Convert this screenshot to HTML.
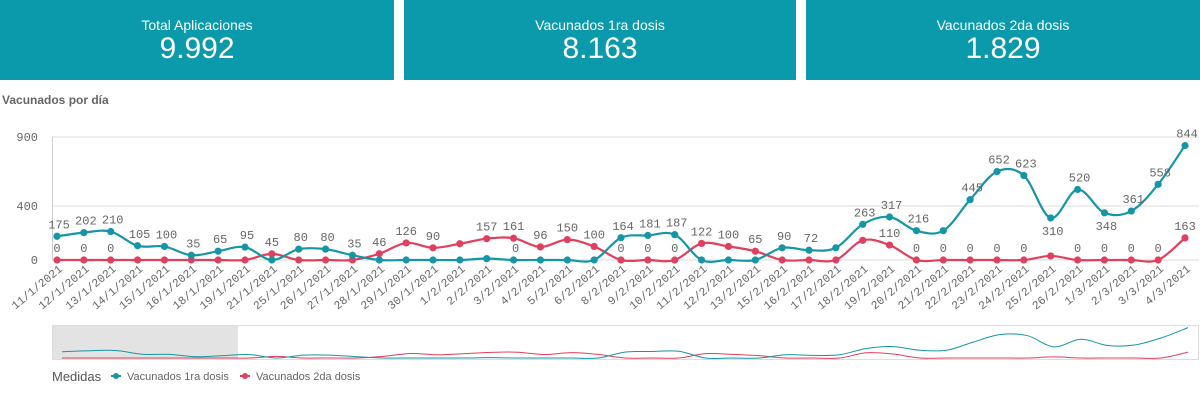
<!DOCTYPE html>
<html><head><meta charset="utf-8"><style>
body{margin:0;width:1200px;height:400px;overflow:hidden;background:#fff;font-family:"Liberation Sans",sans-serif}
.kpi{position:absolute;top:0;height:80px;background:#0a9aab;color:#fff;text-align:center}
.kpi .t{font-size:14px;margin-top:17px}
.kpi .v{font-size:30px;line-height:30px;margin-top:1px}
</style></head><body>
<div class="kpi" style="left:0;width:394px"><div class="t">Total Aplicaciones</div><div class="v">9.992</div></div>
<div class="kpi" style="left:404px;width:392px"><div class="t">Vacunados 1ra dosis</div><div class="v">8.163</div></div>
<div class="kpi" style="left:806px;width:394px"><div class="t">Vacunados 2da dosis</div><div class="v">1.829</div></div>
<svg id="s" width="1200" height="400" style="position:absolute;left:0;top:0"></svg>
<script>
const dates="11/1/2021 12/1/2021 13/1/2021 14/1/2021 15/1/2021 16/1/2021 18/1/2021 19/1/2021 21/1/2021 25/1/2021 26/1/2021 27/1/2021 28/1/2021 29/1/2021 30/1/2021 1/2/2021 2/2/2021 3/2/2021 4/2/2021 5/2/2021 6/2/2021 8/2/2021 9/2/2021 10/2/2021 11/2/2021 12/2/2021 13/2/2021 15/2/2021 16/2/2021 17/2/2021 18/2/2021 19/2/2021 20/2/2021 21/2/2021 22/2/2021 23/2/2021 24/2/2021 25/2/2021 26/2/2021 1/3/2021 2/3/2021 3/3/2021 4/3/2021".split(" ");
const B=[175,202,210,105,100,35,65,95,0,80,80,35,0,0,0,0,10,0,0,0,0,164,181,187,0,0,0,90,72,90,263,317,216,216,445,652,623,310,520,348,361,558,844];
const R=[0,0,0,0,0,0,0,0,45,0,0,0,46,126,90,120,157,161,96,150,100,0,0,0,122,100,65,0,0,0,145,110,0,0,0,0,0,30,0,0,0,0,163];
const bShow=i=>!([8,12,13,14,15,16,18,19,20,24,25,26,29,33].includes(i));
const rShow=i=>[0,1,2,8,12,13,14,16,17,18,19,20,21,22,23,24,25,26,31,32,33,34,35,36,38,39,40,41,42].includes(i);
const X=i=>57+i*(1128/42), Y=v=>260-v*0.1356;
let h='';
const txt=(x,y,t,o='')=>`<text x="${x}" y="${y}" ${o}>${t}</text>`;
h+=`<text x="2" y="104" font-size="12" font-weight="bold" fill="#666" font-family="Liberation Sans">Vacunados por día</text>`;
[[900,137],[400,206],[0,260]].forEach(([v,y])=>{h+=`<line x1="52" x2="1199" y1="${y}" y2="${y}" stroke="#ddd"/>`;h+=txt(38,y+4,v,'font-size="12" fill="#666" text-anchor="end" font-family="Liberation Mono"');});
h+=`<line x1="52.5" x2="52.5" y1="137" y2="260" stroke="#ccc"/>`;
function path(vals,xf,yf){let p=vals.map((v,i)=>[xf(i),yf(v)]);let d=`M${p[0][0]},${p[0][1]}`;
for(let i=0;i<p.length-1;i++){const p0=p[i-1]||p[i],p1=p[i],p2=p[i+1],p3=p[i+2]||p2;const k=6;
d+=` C${p1[0]+(p2[0]-p0[0])/k},${p1[1]+(p2[1]-p0[1])/k} ${p2[0]-(p3[0]-p1[0])/k},${p2[1]-(p3[1]-p1[1])/k} ${p2[0]},${p2[1]}`;}return d;}
[[R,'#e0405e'],[B,'#1596a6']].forEach(([a,c])=>{h+=`<path d="${path(a,X,Y)}" fill="none" stroke="${c}" stroke-width="2.2"/>`;a.forEach((v,i)=>h+=`<circle cx="${X(i)}" cy="${Y(v)}" r="3.6" fill="${c}"/>`);});
const lab='font-size="12" fill="#666" text-anchor="middle" font-family="Liberation Mono"';
B.forEach((v,i)=>{if(bShow(i)){let y=(i==37||i==39)?Y(v)+17:Y(v)-8;h+=txt(X(i)+2,y,v,lab);}});
R.forEach((v,i)=>{if(rShow(i)){h+=txt(X(i),Y(v)-8,v,lab);}});
dates.forEach((d,i)=>{const x=X(i)+6,y=270;h+=`<text x="${x}" y="${y}" transform="rotate(-40 ${x} ${y})" text-anchor="end" font-size="11.5" fill="#666" font-family="Liberation Mono">${d}</text>`;});
h+=`<rect x="52.5" y="325.5" width="1146" height="34" fill="#fff" stroke="#ddd"/>`;
h+=`<rect x="53" y="326" width="185" height="33" fill="#e3e3e3"/>`;
const MX=i=>62+i*(1126/42),MY=v=>358-v*0.036;
h+=`<path d="${path(R,MX,MY)}" fill="none" stroke="#e0405e" stroke-width="1"/>`;
h+=`<path d="${path(B,MX,MY)}" fill="none" stroke="#1596a6" stroke-width="1"/>`;
h+=`<text x="52" y="381" font-size="13" fill="#555">Medidas</text>`;
h+=`<line x1="111" x2="121" y1="376" y2="376" stroke="#1596a6" stroke-width="2"/><circle cx="116" cy="376" r="3" fill="#1596a6"/>`;
h+=`<text x="127" y="380" font-size="11" fill="#666">Vacunados 1ra dosis</text>`;
h+=`<line x1="240" x2="250" y1="376" y2="376" stroke="#e0405e" stroke-width="2"/><circle cx="245" cy="376" r="3" fill="#e0405e"/>`;
h+=`<text x="256" y="380" font-size="11" fill="#666">Vacunados 2da dosis</text>`;
document.getElementById('s').innerHTML=h;
</script>
</body></html>
